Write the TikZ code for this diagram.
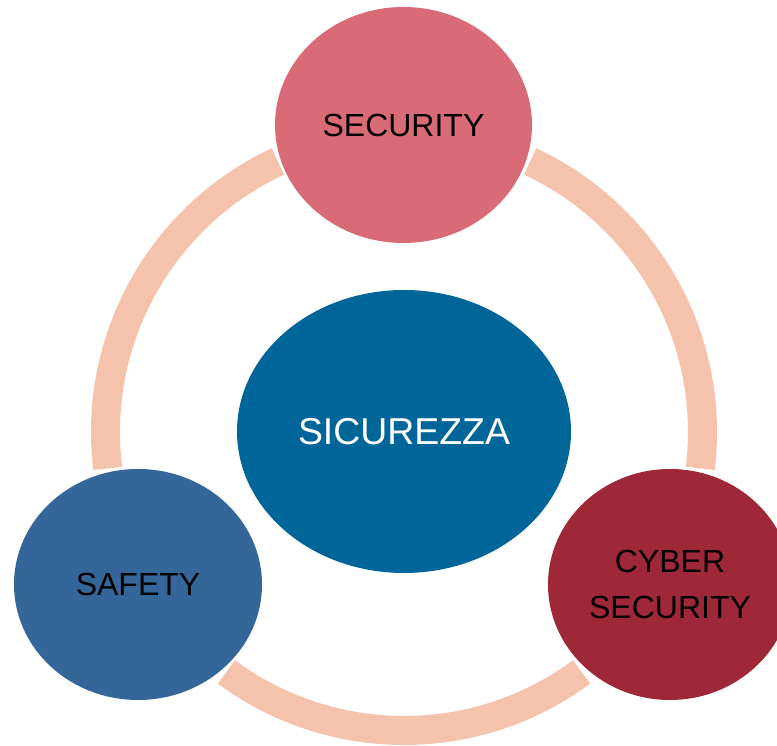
\documentclass[tikz,border=0pt]{standalone}
\usepackage{fontspec}
\setmainfont{Liberation Sans}
\usetikzlibrary{shapes.geometric}
\definecolor{ringc}{HTML}{F5C2AC}
\definecolor{secc}{HTML}{D96B77}
\definecolor{cenc}{HTML}{00669A}
\definecolor{safc}{HTML}{356699}
\definecolor{cybc}{HTML}{9E2837}
\tikzset{
  ringarc/.style={draw=ringc, line width=29pt, line cap=butt},
  blob/.style={ellipse, draw=none, inner sep=0pt, align=center, text=black,
    font=\fontsize{32}{46}\selectfont}
}
\begin{document}
\begin{tikzpicture}[x=1pt,y=1pt]
\useasboundingbox (0,0) rectangle (777,746);
\clip (0,0) rectangle (777,746);
\coordinate (c) at (404,314);
\draw[ringarc] (c) ++(65:298.5) arc[start angle=65, end angle=-7, radius=298.5];
\draw[ringarc] (c) ++(-53.5:298.5) arc[start angle=-53.5, end angle=-126.5, radius=298.5];
\draw[ringarc] (c) ++(187:298.5) arc[start angle=187, end angle=115, radius=298.5];
\node[blob, fill=secc, minimum width=257pt, minimum height=236pt] (sec) at (403.5,621) {SECURITY};
\node[blob, fill=cenc, minimum width=334pt, minimum height=283pt, text=white,
  font=\fontsize{37.4}{44}\selectfont] (cen) at (404,314.5) {SICUREZZA};
\node[blob, fill=safc, minimum width=248pt, minimum height=231pt] (saf) at (138,161.5) {SAFETY};
\node[blob, fill=cybc, minimum width=244pt, minimum height=231pt] (cyb) at (670,161.5) {CYBER\\SECURITY};
\end{tikzpicture}
\end{document}
